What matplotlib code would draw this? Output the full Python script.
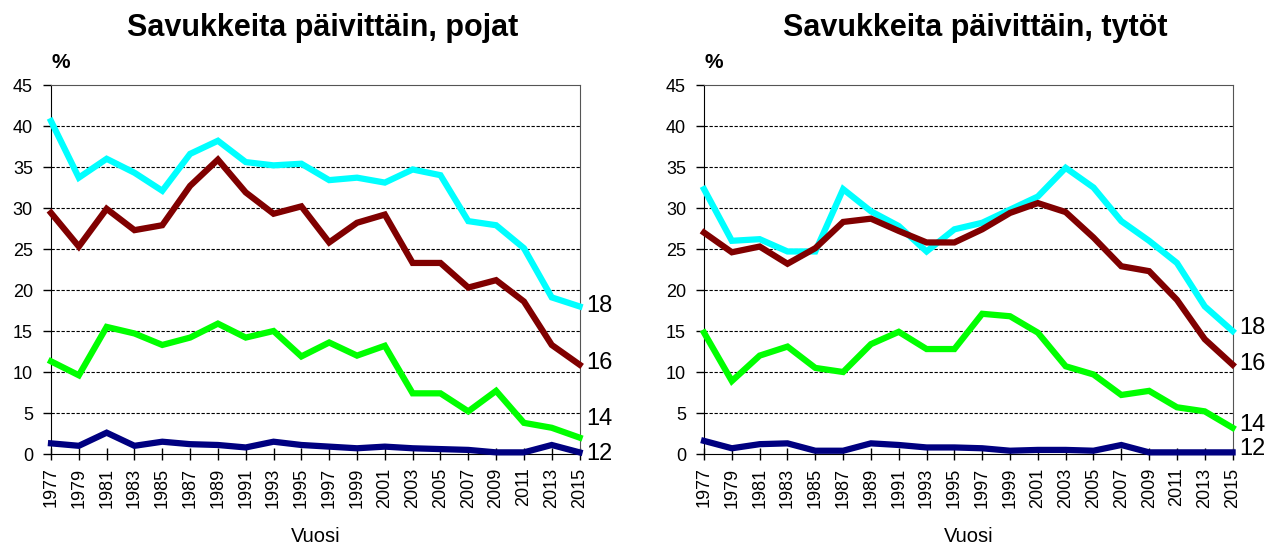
import matplotlib
matplotlib.use('Agg')
import matplotlib.pyplot as plt
import numpy as np

plt.rcParams['font.family'] = ['Liberation Sans', 'DejaVu Sans']

years = list(range(1977, 2016, 2))
ages = ['18', '16', '14', '12']
colors = ['#00FFFF', '#800000', '#00FF00', '#000080']

# boys (pojat), % smoking daily, by age
boys_18 = [40.6, 33.7, 36.0, 34.3, 32.1, 36.6, 38.2, 35.6, 35.2, 35.4,
           33.4, 33.7, 33.1, 34.7, 34.0, 28.4, 27.9, 25.1, 19.1, 18.0]
boys_16 = [29.4, 25.3, 29.9, 27.3, 27.9, 32.7, 35.9, 31.9, 29.3, 30.2,
           25.8, 28.2, 29.2, 23.3, 23.3, 20.3, 21.2, 18.6, 13.3, 10.9]
boys_14 = [11.3, 9.6, 15.5, 14.7, 13.3, 14.2, 15.9, 14.2, 15.0, 11.9,
           13.6, 12.0, 13.2, 7.4, 7.4, 5.2, 7.7, 3.8, 3.2, 2.0]
boys_12 = [1.3, 1.0, 2.6, 1.0, 1.5, 1.2, 1.1, 0.8, 1.5, 1.1,
           0.9, 0.7, 0.9, 0.7, 0.6, 0.5, 0.2, 0.2, 1.1, 0.2]

# girls (tytöt)
girls_18 = [32.3, 26.0, 26.2, 24.7, 24.7, 32.3, 29.6, 27.8, 24.7, 27.4,
            28.2, 29.8, 31.4, 34.9, 32.5, 28.4, 26.0, 23.3, 18.0, 15.0]
girls_16 = [27.0, 24.6, 25.3, 23.2, 25.1, 28.3, 28.7, 27.2, 25.8, 25.8,
            27.4, 29.4, 30.6, 29.5, 26.4, 22.9, 22.3, 18.8, 14.0, 10.9]
girls_14 = [14.8, 8.9, 12.0, 13.1, 10.5, 10.0, 13.4, 14.9, 12.8, 12.8,
            17.1, 16.8, 14.8, 10.7, 9.7, 7.2, 7.7, 5.7, 5.2, 3.2]
girls_12 = [1.6, 0.7, 1.2, 1.3, 0.4, 0.4, 1.3, 1.1, 0.8, 0.8,
            0.7, 0.4, 0.5, 0.5, 0.4, 1.1, 0.2, 0.2, 0.2, 0.2]

# y positions of the age labels at the right end
boys_label_y = [18.0, 11.1, 4.3, 0.0]
girls_label_y = [15.4, 11.0, 3.5, 0.6]

panels = [
    ('Savukkeita päivittäin, pojat', [boys_18, boys_16, boys_14, boys_12], boys_label_y, 0.0402),
    ('Savukkeita päivittäin, tytöt', [girls_18, girls_16, girls_14, girls_12], girls_label_y, 0.5548),
]

fig = plt.figure(figsize=(12.69, 5.47), dpi=100)

for title, series, label_y, left in panels:
    ax = fig.add_axes([left, 0.170, 0.4165, 0.6746])
    for vals, c in zip(series, colors):
        ax.plot(years, vals, color=c, linewidth=4.5, solid_joinstyle='miter', clip_on=False, zorder=3)

    ax.set_xlim(1977, 2015)
    ax.set_ylim(0, 45)
    ax.set_yticks(np.arange(0, 46, 5))
    ax.set_xticks(years)
    ax.set_xticklabels([str(y) for y in years], rotation=90, fontsize=13)
    ax.tick_params(axis='y', labelsize=13, length=5.5, width=1, direction='out', pad=7.5)
    ax.tick_params(axis='x', length=8.5, width=1, direction='inout', pad=5.5)

    for y in range(5, 45, 5):
        ax.axhline(y, color='black', linestyle=(0, (3, 1.5)), linewidth=0.8, zorder=1)

    ax.spines['left'].set_color('black')
    ax.spines['bottom'].set_color('black')
    ax.spines['top'].set_color('#555555')
    ax.spines['right'].set_color('#555555')

    ax.set_xlabel('Vuosi', fontsize=14.5, labelpad=14)
    ax.text(0.0, 1.035, '%', transform=ax.transAxes, fontsize=15, fontweight='bold',
            ha='left', va='bottom')
    ax.set_title(title, fontsize=22, fontweight='bold', pad=35, x=0.514)

    for lab, y in zip(ages, label_y):
        ax.text(2015.5, y, lab, fontsize=17, ha='left', va='center', clip_on=False)

fig.savefig('out.png', dpi=100)
